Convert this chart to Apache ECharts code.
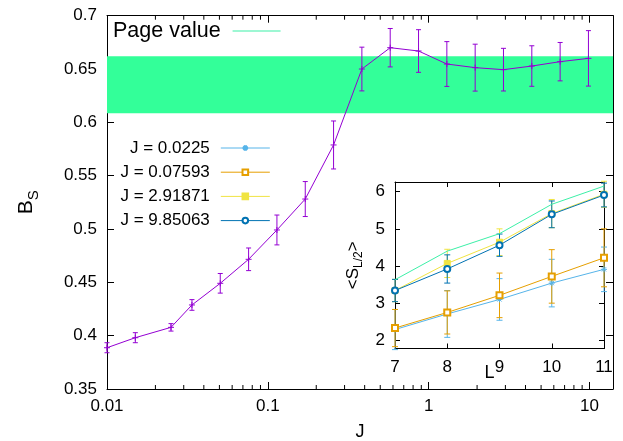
<!DOCTYPE html>
<html><head><meta charset="utf-8">
<script src="https://cdn.jsdelivr.net/npm/echarts@6/dist/echarts.min.js"></script>
<style>html,body{margin:0;padding:0;background:#fff}#c{width:623px;height:441px}</style>
</head><body><div id="c"></div><script>
// ---- main plot data ----
const J = [0.01, 0.015, 0.025, 0.03375, 0.0506, 0.07593, 0.1139, 0.1709, 0.2563, 0.3844, 0.5767, 0.865, 1.2975, 1.946, 2.91871, 4.379, 6.568, 9.85063];
const Bs = [0.3887, 0.3981, 0.4078, 0.4288, 0.4491, 0.4716, 0.4991, 0.5281, 0.5788, 0.650, 0.670, 0.6669, 0.6547, 0.6513, 0.6494, 0.6528, 0.6569, 0.660];
const BsErr = [0.0047, 0.0047, 0.0035, 0.005, 0.0092, 0.0106, 0.014, 0.0164, 0.0225, 0.0205, 0.018, 0.020, 0.021, 0.022, 0.020, 0.019, 0.018, 0.026];
const bandLow = 0.6085, bandHigh = 0.662;
const xMinorTicks = [0.02,0.03,0.04,0.05,0.06,0.07,0.08,0.09,0.2,0.3,0.4,0.5,0.6,0.7,0.8,0.9,2,3,4,5,6,7,8,9];
// ---- inset data ----
const L = [7, 8, 9, 10, 11];
const pageValue = [3.63, 4.40, 4.87, 5.66, 6.15];
const sJ1 = [2.29, 2.71, 3.10, 3.54, 3.91];  const sJ1Err = [0.54, 0.63, 0.56, 0.64, 0.60];
const sJ2 = [2.33, 2.75, 3.21, 3.72, 4.22];  const sJ2Err = [0.50, 0.58, 0.60, 0.72, 0.78];
const sJ3 = [3.34, 4.07, 4.64, 5.41, 5.93];  const sJ3Err = [0.30, 0.38, 0.36, 0.38, 0.35];
const sJ4 = [3.34, 3.92, 4.56, 5.39, 5.91];  const sJ4Err = [0.30, 0.38, 0.30, 0.36, 0.32];
const legendNames = ['J = 0.0225', 'J = 0.07593', 'J = 2.91871', 'J = 9.85063'];
const pageName = 'Page value';

const FONT = 'Liberation Sans, Arial, Helvetica, sans-serif';
const C = {main:'#9400d3', band:'#33ff99', page:'#3cf0a8', j1:'#56b4e9', j2:'#e69f00', j3:'#f0e442', j4:'#0072b2'};
const yMin = 0.35, yMax = 0.7, inMin = 1.78, inMax = 6.26;

const chart = echarts.init(document.getElementById('c'), null, {renderer:'canvas'});

function errSeries(xs, ys, es, color, xi, yi, cap) {
  return {
    type:'custom', xAxisIndex:xi, yAxisIndex:yi, silent:true, clip:false, z:2,
    itemStyle:{color:color},
    data: xs.map((x,i)=>[x, ys[i], es[i]]),
    encode:{x:0, y:1},
    renderItem:function(params, api){
      const x = api.value(0), y = api.value(1), e = api.value(2);
      const t = api.coord([x, y+e]), b = api.coord([x, y-e]);
      const st = {stroke:color, lineWidth:1};
      return {type:'group', children:[
        {type:'line', shape:{x1:t[0],y1:t[1],x2:b[0],y2:b[1]}, style:st},
        {type:'line', shape:{x1:t[0]-cap,y1:t[1],x2:t[0]+cap,y2:t[1]}, style:st},
        {type:'line', shape:{x1:b[0]-cap,y1:b[1],x2:b[0]+cap,y2:b[1]}, style:st}
      ]};
    }
  };
}
function lineSeries(name, ys, color, symbol) {
  return {
    name:name, type:'line', xAxisIndex:2, yAxisIndex:2, clip:false, z:3,
    data: L.map((x,i)=>[x, ys[i]]),
    symbol:symbol, symbolSize:6, showAllSymbol:true,
    lineStyle:{color:color, width:1},
    itemStyle:{color:color, borderColor:color, borderWidth:1},
    emphasis:{disabled:true}
  };
}
const axisLineBlack = {show:true, lineStyle:{color:'#000', width:1}};
const tickLbl = {color:'#000', fontSize:17, fontFamily:FONT};

const option = {
  animation:false,
  backgroundColor:'#fff',
  grid:[
    {left:107, right:10, top:15.7, bottom:52, containLabel:false, outerBoundsMode:'none'},
    {left:395, right:19, top:182, bottom:92.5, containLabel:false, outerBoundsMode:'none'}
  ],
  legend:[
    {data:[{name:pageName, icon:'rect'}], orient:'vertical', align:'right', left:113, top:20, padding:0,
     itemWidth:48, itemHeight:1.2, selectedMode:false,
     textStyle:{fontSize:21.5, fontFamily:FONT, color:'#000', padding:[0,7,0,0]}},
    {data:legendNames, orient:'vertical', align:'right', left:120.5, top:139.5, padding:0,
     itemWidth:49, itemHeight:7, itemGap:7.2, selectedMode:false,
     lineStyle:{width:1},
     textStyle:{fontSize:17, lineHeight:17, fontFamily:FONT, color:'#000', padding:[0,6,0,0]}}
  ],
  xAxis:[
    {type:'log', logBase:10, gridIndex:0, min:0.01, max:14, position:'bottom',
     axisLine:axisLineBlack, splitLine:{show:false},
     axisTick:{inside:true, length:7, lineStyle:{color:'#000'}},
     axisLabel:Object.assign({margin:9, showMaxLabel:false, formatter:v=>String(Number(v.toPrecision(6)))}, tickLbl),
     name:'J', nameLocation:'middle', nameGap:34, nameMoveOverlap:false,
     nameTextStyle:{fontSize:18, fontFamily:FONT, color:'#000'}},
    {type:'log', logBase:10, gridIndex:0, min:0.01, max:14, position:'top',
     axisLine:axisLineBlack, splitLine:{show:false},
     axisTick:{inside:true, length:7, lineStyle:{color:'#000'}}, axisLabel:{show:false}},
    {type:'value', gridIndex:1, min:7, max:11, interval:1, position:'bottom',
     axisLine:axisLineBlack, splitLine:{show:false},
     axisTick:{inside:true, length:5, lineStyle:{color:'#000'}},
     axisLabel:Object.assign({margin:10}, tickLbl),
     name:'L', nameLocation:'middle', nameGap:16, nameMoveOverlap:false,
     nameTextStyle:{fontSize:18, fontFamily:FONT, color:'#000', padding:[0,20,0,0]}},
    {type:'value', gridIndex:1, min:7, max:11, interval:1, position:'top',
     axisLine:axisLineBlack, splitLine:{show:false},
     axisTick:{inside:true, length:5, lineStyle:{color:'#000'}}, axisLabel:{show:false}}
  ],
  yAxis:[
    {type:'value', gridIndex:0, min:yMin, max:yMax, interval:0.05, position:'left',
     axisLine:axisLineBlack, splitLine:{show:false},
     axisTick:{inside:true, length:7, lineStyle:{color:'#000'}},
     axisLabel:Object.assign({margin:10}, tickLbl),
     name:'{b|B}{s|S}', nameLocation:'middle', nameGap:66, nameMoveOverlap:false,
     nameTextStyle:{color:'#000', fontFamily:FONT, rich:{
       b:{fontSize:21, lineHeight:30, fontFamily:FONT, color:'#000'},
       s:{fontSize:15, verticalAlign:'bottom', fontFamily:FONT, color:'#000'}}}},
    {type:'value', gridIndex:0, min:yMin, max:yMax, interval:0.05, position:'right',
     axisLine:axisLineBlack, splitLine:{show:false},
     axisTick:{inside:true, length:7, lineStyle:{color:'#000'}}, axisLabel:{show:false}},
    {type:'value', gridIndex:1, min:inMin, max:inMax, splitNumber:4, position:'left',
     axisLine:axisLineBlack, splitLine:{show:false},
     axisTick:{inside:true, length:5, lineStyle:{color:'#000'}},
     axisLabel:Object.assign({margin:10, showMinLabel:false, showMaxLabel:false}, tickLbl),
     name:'{m|<S}{s|L/2}{m|>}', nameLocation:'middle', nameGap:30, nameMoveOverlap:false,
     nameTextStyle:{color:'#000', fontFamily:FONT, rich:{
       m:{fontSize:17, lineHeight:24, fontFamily:FONT, color:'#000'},
       s:{fontSize:12, verticalAlign:'bottom', fontFamily:FONT, color:'#000'}}}},
    {type:'value', gridIndex:1, min:inMin, max:inMax, splitNumber:4, position:'right',
     axisLine:axisLineBlack, splitLine:{show:false},
     axisTick:{inside:true, length:5, lineStyle:{color:'#000'}}, axisLabel:{show:false}}
  ],
  series:[
    {name:'Bs', type:'line', xAxisIndex:0, yAxisIndex:0, z:3,
     data:J.map((j,i)=>[j, Bs[i]]),
     symbol:'path://M0,5L10,5M5,0L5,10', symbolSize:6,
     lineStyle:{color:C.main, width:1},
     itemStyle:{color:C.main, borderColor:C.main, borderWidth:1},
     emphasis:{disabled:true},
     markArea:{silent:true, itemStyle:{color:C.band, opacity:1},
       data:[[{yAxis:bandLow},{yAxis:bandHigh}]]}},
    errSeries(J, Bs, BsErr, C.main, 0, 0, 2.5),
    {type:'custom', xAxisIndex:0, yAxisIndex:0, silent:true, z:5,
     data:xMinorTicks.map(v=>[v, yMin]), encode:{x:0, y:1},
     renderItem:function(params, api){
       const v = api.value(0);
       const b = api.coord([v, yMin]), t = api.coord([v, yMax]);
       const st = {stroke:'#000', lineWidth:1};
       return {type:'group', children:[
         {type:'line', shape:{x1:b[0],y1:b[1],x2:b[0],y2:b[1]-4}, style:st},
         {type:'line', shape:{x1:t[0],y1:t[1],x2:t[0],y2:t[1]+4}, style:st}
       ]};
     }},
    errSeries(L, sJ1, sJ1Err, C.j1, 2, 2, 3),
    errSeries(L, sJ2, sJ2Err, C.j2, 2, 2, 3),
    errSeries(L, sJ3, sJ3Err, C.j3, 2, 2, 3),
    errSeries(L, sJ4, sJ4Err, C.j4, 2, 2, 3),
    {name:pageName, type:'line', xAxisIndex:2, yAxisIndex:2, z:3, clip:false,
     data:L.map((x,i)=>[x, pageValue[i]]), symbol:'none',
     lineStyle:{color:C.page, width:1}, itemStyle:{color:C.page}, emphasis:{disabled:true}},
    lineSeries(legendNames[0], sJ1, C.j1, 'path://M0,5L10,5M5,0L5,10M1.5,1.5L8.5,8.5M8.5,1.5L1.5,8.5'),
    lineSeries(legendNames[1], sJ2, C.j2, 'emptyRect'),
    lineSeries(legendNames[2], sJ3, C.j3, 'rect'),
    lineSeries(legendNames[3], sJ4, C.j4, 'emptyCircle')
  ]
};
chart.setOption(option);
</script></body></html>
